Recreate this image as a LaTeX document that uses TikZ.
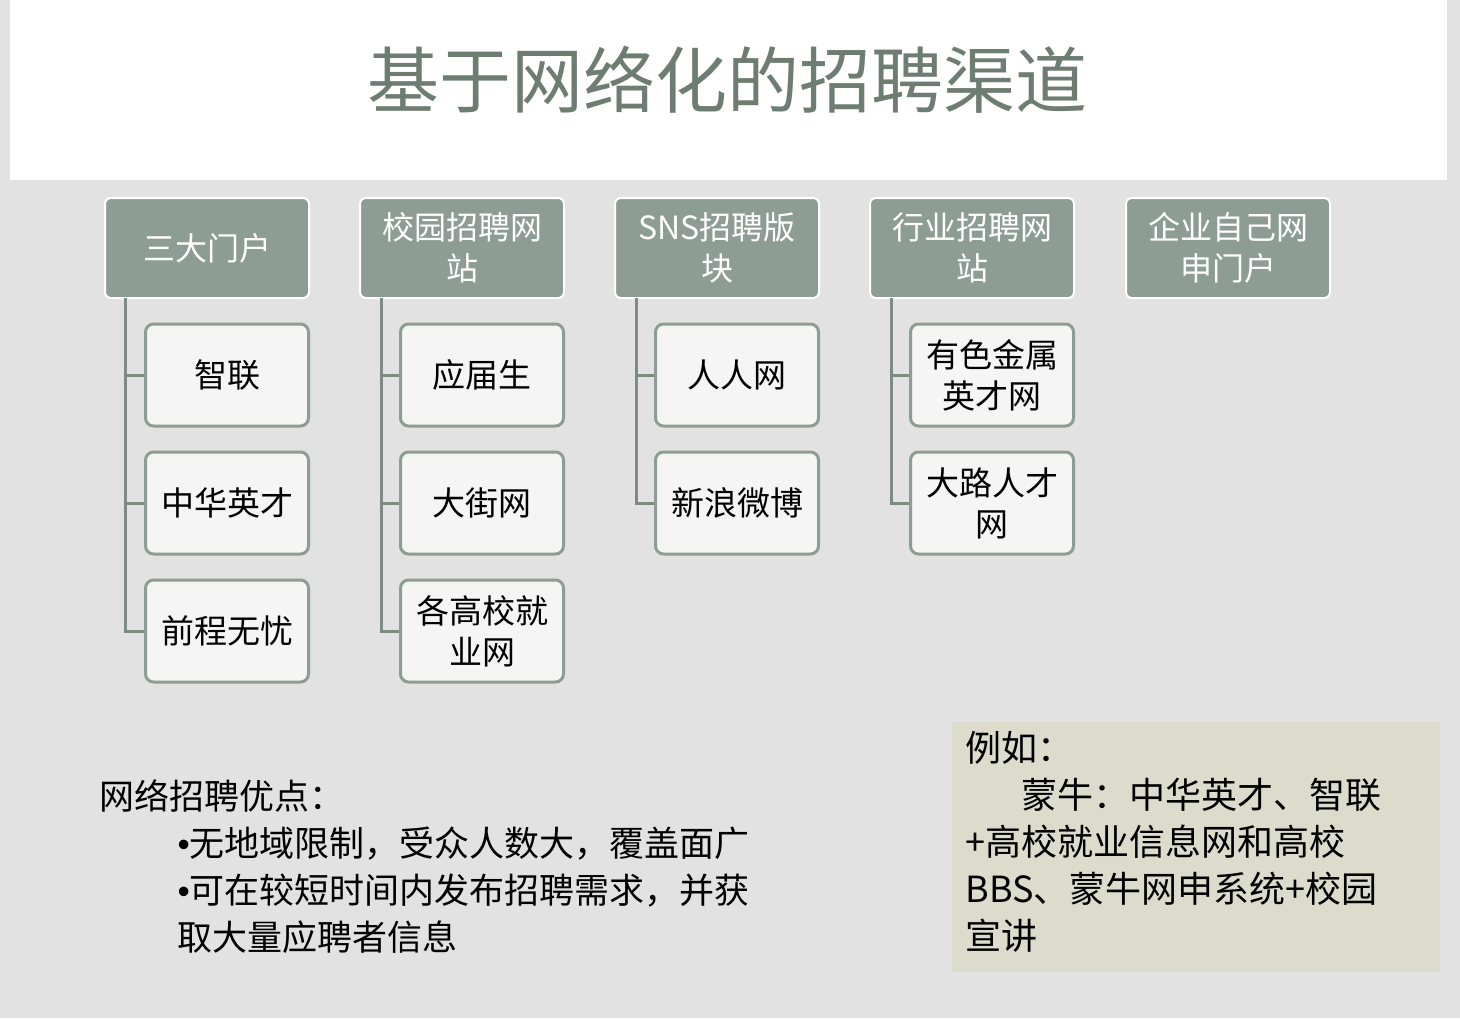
\documentclass[tikz,border=0pt]{standalone}
\usepackage{fontspec}
\setmainfont{Noto Sans CJK SC}
\newfontfamily\bulf{Liberation Sans}
\definecolor{hdr}{HTML}{8E9D93}
\definecolor{ln}{HTML}{7E8B83}
\definecolor{ttl}{HTML}{6E7D72}
\definecolor{bg}{HTML}{E2E2E2}
\definecolor{note}{HTML}{DDDCCC}
\tikzset{
 head/.style={draw=white,line width=2pt,fill=hdr,rounded corners=6pt,minimum width=204pt,minimum height=100pt,align=center,text=white,font=\fontsize{32}{41}\selectfont},
 kid/.style={draw=hdr,line width=3pt,fill=white!96!black,rounded corners=8pt,minimum width=163pt,minimum height=102pt,align=center,font=\fontsize{33}{41}\selectfont},
 conn/.style={draw=ln,line width=3pt}
}
\begin{document}
\begin{tikzpicture}[x=1pt,y=-1pt]
\fill[bg] (0,0) rectangle (1460,1018);
\fill[white] (10,0) rectangle (1447,180);
\node[text=ttl,font=\fontsize{72}{80}\selectfont] (title) at (727,80) {基于网络化的招聘渠道};
\node[head] (h1) at (207,248) {三大门户};
\node[head] (h2) at (462,248) {校园招聘网\\站};
\node[head] (h3) at (717,248) {SNS招聘版\\块};
\node[head] (h4) at (972,248) {行业招聘网\\站};
\node[head] (h5) at (1228,248) {企业自己网\\申门户};
\foreach \h/\xx/\cx/\names in {1/125/227/{智联,中华英才,前程无忧},2/381/482/{应届生,大街网,各高校就\\业网},3/636/737/{人人网,新浪微博},4/891/992/{有色金属\\英才网,大路人才\\网}}{
 \foreach \t [count=\i] in \names {
  \node[kid] (k\h\i) at (\cx,{375+128*(\i-1)}) {\t};
  \draw[conn] (\xx,298) |- (k\h\i.west);
 }
}
\node[anchor=north west,align=left,font=\fontsize{35}{47}\selectfont] (adv) at (96,776) {网络招聘优点：\\
\hspace*{78pt}{\bulf •}无地域限制，受众人数大，覆盖面广\\
\hspace*{78pt}{\bulf •}可在较短时间内发布招聘需求，并获\\
\hspace*{78pt}取大量应聘者信息};
\fill[note] (952,722) rectangle (1440,972);
\node[anchor=north west,align=left,font=\fontsize{36}{47}\selectfont] (ex) at (962,728) {例如：\\
\hspace*{56pt}蒙牛：中华英才、智联\\
+高校就业信息网和高校\\
BBS、蒙牛网申系统+校园\\
宣讲};
\end{tikzpicture}
\end{document}
